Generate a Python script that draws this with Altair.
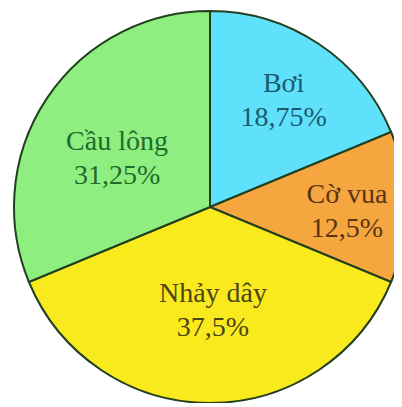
import math
import altair as alt
import pandas as pd

categories = ["Bơi", "Cờ vua", "Nhảy dây", "Cầu lông"]
percents = [18.75, 12.5, 37.5, 31.25]
pct_labels = ["18,75%", "12,5%", "37,5%", "31,25%"]
fill_colors = ["#5fe1fb", "#f5a63e", "#f9ea1e", "#8eef80"]
text_colors = ["#1d5a6e", "#5a3414", "#4d4612", "#1f6b2c"]

df = pd.DataFrame({
    "cat": categories,
    "pct": percents,
    "label": [c + "\n" + p for c, p in zip(categories, pct_labels)],
    "ord": list(range(len(categories))),
})

# label placement (radius, dx, dy) per slice — styling, not data
label_place = {
    "Bơi": (145, -7, -2),
    "Cờ vua": (137, 0, -12),
    "Nhảy dây": (87, 3, 0),
    "Cầu lông": (113, 1, -2),
}

cx, cy = 202, 199
theta_scale = alt.Scale(domain=[0, 100], range=[0, 2 * math.pi])

base = (
    alt.Chart(df)
    .transform_window(end="sum(pct)", sort=[alt.SortField("ord")], frame=[None, 0])
    .transform_calculate(start="datum.end - datum.pct", mid="datum.end - datum.pct / 2")
    .encode(x=alt.value(cx), y=alt.value(cy))
)

arcs = base.mark_arc(outerRadius=196, stroke="#22401f", strokeWidth=2).encode(
    theta=alt.Theta("start:Q", scale=theta_scale),
    theta2="end:Q",
    color=alt.Color("cat:N", scale=alt.Scale(domain=categories, range=fill_colors), legend=None),
)

layers = [arcs]
for cat, tcol in zip(categories, text_colors):
    r, dx, dy = label_place[cat]
    layers.append(
        base.transform_filter(alt.datum.cat == cat)
        .mark_text(
            radius=r, dx=dx, dy=dy, lineBreak="\n", font="Liberation Serif",
            fontSize=28, lineHeight=34, align="center", baseline="middle", color=tcol,
        )
        .encode(theta=alt.Theta("mid:Q", scale=theta_scale), text="label:N")
    )

chart = (
    alt.layer(*layers)
    .properties(width=386, height=395, background="white", padding=0, autosize="none")
    .configure_view(stroke=None)
)

chart.save("out.html", embed_options={"renderer": "svg", "actions": False})
